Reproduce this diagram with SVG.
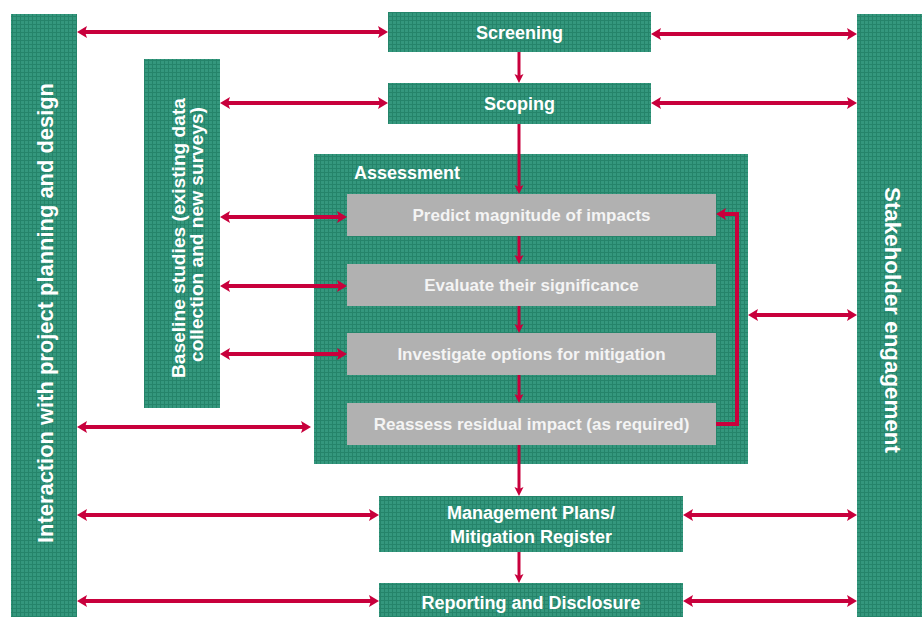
<svg xmlns="http://www.w3.org/2000/svg" width="922" height="617" viewBox="0 0 922 617">
<style>
.g{fill:url(#tex)}
.gr{fill:#b1b1b1}
.t{font-family:"Liberation Sans",Arial,sans-serif;font-weight:bold;fill:#ffffff;font-size:18px}
.tc{text-anchor:middle}
.tg{font-size:17px;fill:#f4f4f4}
.h{stroke:#c8003c;stroke-width:4;fill:none}
.v{stroke:#c8003c;stroke-width:3;fill:none}
</style>
<defs>
<pattern id="tex" width="4" height="4" patternUnits="userSpaceOnUse">
<rect width="4" height="4" fill="#34977d"/>
<rect width="4" height="1" fill="#25846a"/>
<rect width="1" height="4" fill="#25846a"/>
</pattern>
<marker id="ah" markerUnits="userSpaceOnUse" markerWidth="12" markerHeight="12" refX="2" refY="6" orient="auto-start-reverse">
<path d="M0,0 L10,6 L0,12 L2,6 z" fill="#c8003c"/>
</marker>
<marker id="av" markerUnits="userSpaceOnUse" markerWidth="10" markerHeight="10" refX="2" refY="5" orient="auto">
<path d="M0,0.5 L9,5 L0,9.5 L2,5 z" fill="#c8003c"/>
</marker>
</defs>
<rect width="922" height="617" fill="#ffffff"/>

<g id="left-bar">
<rect class="g" x="11" y="14" width="66" height="603"/>
<text class="t tc" transform="translate(53,313) rotate(-90)" font-size="22" style="font-size:22px" textLength="460" lengthAdjust="spacingAndGlyphs">Interaction with project planning and design</text>
</g>
<g id="right-bar">
<rect class="g" x="857" y="14" width="65" height="603"/>
<text class="t tc" transform="translate(885,320) rotate(90)" style="font-size:22px" textLength="266" lengthAdjust="spacingAndGlyphs">Stakeholder engagement</text>
</g>
<g id="baseline">
<rect class="g" x="144" y="59" width="76" height="349"/>
<text class="t tc" transform="translate(185,238) rotate(-90)" style="font-size:19px" textLength="280" lengthAdjust="spacingAndGlyphs">Baseline studies (existing data</text>
<text class="t tc" transform="translate(203,234.5) rotate(-90)" style="font-size:19px" textLength="255" lengthAdjust="spacingAndGlyphs">collection and new surveys)</text>
</g>
<g id="screening">
<rect class="g" x="388" y="12" width="263" height="40"/>
<text class="t tc" x="519.5" y="39">Screening</text>
</g>
<g id="scoping">
<rect class="g" x="388" y="83" width="263" height="41"/>
<text class="t tc" x="519.5" y="110">Scoping</text>
</g>
<g id="assessment">
<rect class="g" x="314" y="154" width="434" height="310"/>
<text class="t" x="354" y="179">Assessment</text>
</g>
<g id="predict">
<rect class="gr" x="347" y="194" width="369" height="42"/>
<text class="t tc tg" x="531.5" y="221">Predict magnitude of impacts</text>
</g>
<g id="evaluate">
<rect class="gr" x="347" y="264" width="369" height="42"/>
<text class="t tc tg" x="531.5" y="291">Evaluate their significance</text>
</g>
<g id="investigate">
<rect class="gr" x="347" y="333" width="369" height="42"/>
<text class="t tc tg" x="531.5" y="360">Investigate options for mitigation</text>
</g>
<g id="reassess">
<rect class="gr" x="347" y="403" width="369" height="42"/>
<text class="t tc tg" x="531.5" y="430">Reassess residual impact (as required)</text>
</g>
<g id="management">
<rect class="g" x="379" y="496" width="304" height="56"/>
<text class="t tc" x="531" y="519">Management Plans/</text>
<text class="t tc" x="531" y="543">Mitigation Register</text>
</g>
<g id="reporting">
<rect class="g" x="379" y="583" width="304" height="34"/>
<text class="t tc" x="531" y="609">Reporting and Disclosure</text>
</g>

<g id="connectors">
<line class="h" x1="85" y1="32" x2="380" y2="32" marker-start="url(#ah)" marker-end="url(#ah)"/>
<line class="h" x1="659" y1="34" x2="849" y2="34" marker-start="url(#ah)" marker-end="url(#ah)"/>
<line class="h" x1="228" y1="103" x2="380" y2="103" marker-start="url(#ah)" marker-end="url(#ah)"/>
<line class="h" x1="659" y1="103" x2="849" y2="103" marker-start="url(#ah)" marker-end="url(#ah)"/>
<line class="h" x1="228" y1="217" x2="339" y2="217" marker-start="url(#ah)" marker-end="url(#ah)"/>
<line class="h" x1="228" y1="286" x2="339" y2="286" marker-start="url(#ah)" marker-end="url(#ah)"/>
<line class="h" x1="228" y1="354" x2="339" y2="354" marker-start="url(#ah)" marker-end="url(#ah)"/>
<line class="h" x1="85" y1="427" x2="303" y2="427" marker-start="url(#ah)" marker-end="url(#ah)"/>
<line class="h" x1="756" y1="315" x2="849" y2="315" marker-start="url(#ah)" marker-end="url(#ah)"/>
<line class="h" x1="85" y1="515" x2="371" y2="515" marker-start="url(#ah)" marker-end="url(#ah)"/>
<line class="h" x1="691" y1="515" x2="849" y2="515" marker-start="url(#ah)" marker-end="url(#ah)"/>
<line class="h" x1="85" y1="601" x2="371" y2="601" marker-start="url(#ah)" marker-end="url(#ah)"/>
<line class="h" x1="691" y1="601" x2="849" y2="601" marker-start="url(#ah)" marker-end="url(#ah)"/>
<polyline class="h" points="716,424 737,424 737,214 724,214" marker-end="url(#ah)"/>
<line class="v" x1="519" y1="52" x2="519" y2="76" marker-end="url(#av)"/>
<line class="v" x1="519" y1="124" x2="519" y2="187" marker-end="url(#av)"/>
<line class="v" x1="519" y1="236" x2="519" y2="257" marker-end="url(#av)"/>
<line class="v" x1="519" y1="306" x2="519" y2="326" marker-end="url(#av)"/>
<line class="v" x1="519" y1="375" x2="519" y2="396" marker-end="url(#av)"/>
<line class="v" x1="519" y1="445" x2="519" y2="489" marker-end="url(#av)"/>
<line class="v" x1="519" y1="552" x2="519" y2="576" marker-end="url(#av)"/>
</g>
</svg>
